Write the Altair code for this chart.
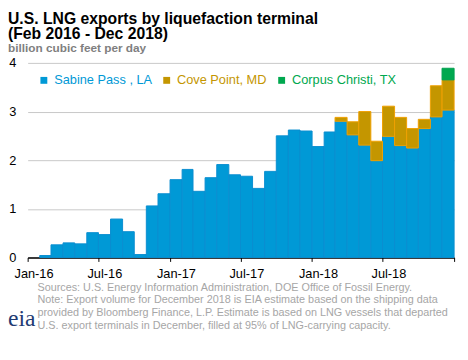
import altair as alt
import pandas as pd

# ---------------- data ----------------
MONTHS = pd.date_range("2016-01-01", periods=36, freq="MS")
SERIES = ["Sabine Pass , LA", "Cove Point, MD", "Corpus Christi, TX"]
COLORS = ["#0099D6", "#C49600", "#00A84F"]
STROKES = ["#0A8ED0", "#F0A000", "#00A050"]

sabine = [0.00, 0.04, 0.26, 0.30, 0.28, 0.51, 0.47, 0.79, 0.53, 0.06, 1.06, 1.31,
          1.60, 1.81, 1.36, 1.64, 1.91, 1.70, 1.67, 1.42, 1.77, 2.50, 2.62, 2.60,
          2.28, 2.58, 2.80, 2.52, 2.31, 1.99, 2.49, 2.30, 2.25, 2.65, 2.89, 3.03]
cove = [0, 0, 0, 0, 0, 0, 0, 0, 0, 0, 0, 0,
        0, 0, 0, 0, 0, 0, 0, 0, 0, 0, 0, 0,
        0, 0, 0.08, 0.27, 0.69, 0.40, 0.62, 0.58, 0.40, 0.19, 0.64, 0.62]
corpus = [0, 0, 0, 0, 0, 0, 0, 0, 0, 0, 0, 0,
          0, 0, 0, 0, 0, 0, 0, 0, 0, 0, 0, 0,
          0, 0, 0, 0, 0, 0, 0, 0, 0, 0, 0, 0.24]

Y_TICKS = [0, 1, 2, 3, 4]
TITLE = ["U.S. LNG exports by liquefaction terminal", "(Feb 2016 - Dec 2018)"]
SUBTITLE = "billion cubic feet per day"
FOOTER = [
    "Sources: U.S. Energy Information Administration, DOE Office of Fossil Energy.",
    "Note: Export volume for December 2018 is EIA estimate based on the shipping data",
    "provided by Bloomberg Finance, L.P. Estimate is based on LNG vessels that departed",
    "U.S. export terminals in December, filled at 95% of LNG-carrying capacity.",
]

rows = []
for k, (name, vals) in enumerate(zip(SERIES, [sabine, cove, corpus])):
    for m, v in zip(MONTHS, vals):
        if v > 0:
            rows.append({
                "date": m.strftime("%Y-%m-%d"),
                "end": (m + pd.offsets.MonthBegin(1)).strftime("%Y-%m-%d"),
                "series": name,
                "order": k,
                "value": v,
            })
df = pd.DataFrame(rows)

tick_dates = [alt.DateTime(year=y, month=mo, date=1, utc=True)
              for y in (2016, 2017, 2018) for mo in (1, 7)] + \
             [alt.DateTime(year=2019, month=1, date=1, utc=True)]

FONT = "Liberation Sans"

bars = alt.Chart(df).transform_stack(
    stack="value", groupby=["date"], as_=["lo", "hi"],
    sort=[alt.SortField("order", order="ascending")]
).mark_bar(strokeWidth=1).encode(
    x=alt.X("date:T",
            scale=alt.Scale(type="utc",
                            domain=[alt.DateTime(year=2016, month=1, date=1, utc=True),
                                    alt.DateTime(year=2019, month=1, date=1, utc=True)],
                            nice=False),
            axis=alt.Axis(values=tick_dates, title=None, grid=False,
                          labelExpr="utcyear(datum.value) >= 2019 ? '' : utcFormat(datum.value, '%b-%y')",
                          labelOffset=6, labelFontSize=13, labelColor="black", labelFont=FONT,
                          labelPadding=6, tickSize=4, tickColor="black", domainColor="black",
                          domainWidth=1.5, labelFlush=False, labelOverlap=False)),
    x2="end:T",
    y=alt.Y("lo:Q",
            scale=alt.Scale(domain=[0, 4], nice=False),
            axis=alt.Axis(values=Y_TICKS, title=None, domain=False, ticks=False,
                          gridColor="#C8C8C8", labelFontSize=13, labelColor="black",
                          labelFont=FONT, labelPadding=12)),
    y2="hi:Q",
    color=alt.Color("series:N",
                    scale=alt.Scale(domain=SERIES, range=COLORS),
                    legend=alt.Legend(orient="none", legendX=10, legendY=11,
                                      direction="horizontal", title=None,
                                      symbolType="square", symbolSize=49,
                                      symbolStrokeWidth=0, labelFontSize=13,
                                      labelFont=FONT, columnPadding=8, labelOffset=4,
                                      padding=0,
                                      labelColor=alt.ExprRef("scale('color', datum.value)"))),
    stroke=alt.Stroke("series:N", scale=alt.Scale(domain=SERIES, range=STROKES), legend=None),
)

one = pd.DataFrame({"k": [0]})
footer = alt.Chart(one).mark_text(
    text=FOOTER, align="left", baseline="top", font=FONT, fontSize=11,
    lineHeight=12.8, color="#A6A6A6"
).encode(x=alt.value(10), y=alt.value(223))

logo = alt.Chart(one).mark_text(
    text="eia", align="left", baseline="alphabetic", font="Liberation Serif",
    fontSize=24, color="#1F3B73"
).encode(x=alt.value(-20), y=alt.value(268))

chart = alt.layer(bars, footer, logo).properties(
    width=434, height=198,
    padding={"left": 0, "top": 0, "right": 0, "bottom": 0},
    title=alt.TitleParams(text=TITLE, subtitle=SUBTITLE, anchor="start", frame="group",
                          dx=-20, offset=3, font=FONT, fontSize=16, fontWeight="bold",
                          lineHeight=16, color="black", subtitleFont=FONT,
                          subtitleFontSize=12, subtitleFontWeight="bold",
                          subtitleLineHeight=12,
                          subtitleColor="#7F7F7F", subtitlePadding=1),
).configure_view(stroke=None)

chart.save("out.html", embed_options={"renderer": "svg", "actions": False})
